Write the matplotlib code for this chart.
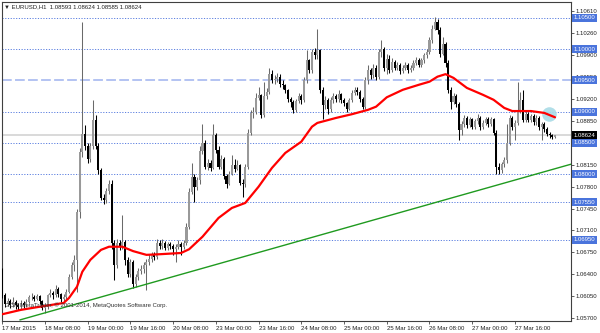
import matplotlib
matplotlib.use('Agg')
import matplotlib.pyplot as plt
import matplotlib.transforms as mtransforms

plt.rcParams['font.family'] = ['Liberation Sans', 'DejaVu Sans']

# EURUSD H1 bars, index 0 = 17 Mar 2015 16:00
first_open = 1.0640
close = [1.0606, 1.0593, 1.0597, 1.0590, 1.0595, 1.0590, 1.0587, 1.0594, 1.0590, 1.0596,
         1.0603, 1.0604, 1.0601, 1.0605, 1.0597, 1.0586, 1.0588, 1.0606, 1.0610, 1.0606,
         1.0617, 1.0608, 1.0600, 1.0603, 1.0612, 1.0636, 1.0655, 1.0662, 1.0740, 1.0836,
         1.0865, 1.0845, 1.0825, 1.0845, 1.0887, 1.0845, 1.0807, 1.0762, 1.0758, 1.0773,
         1.0784, 1.0690, 1.0655, 1.0690, 1.0685, 1.0692, 1.0662, 1.0640, 1.0660, 1.0625,
         1.0635, 1.0645, 1.0648, 1.0655, 1.0660, 1.0665, 1.0670, 1.0668, 1.0690, 1.0685,
         1.0690, 1.0682, 1.0688, 1.0685, 1.0680, 1.0684, 1.0688, 1.0683, 1.0690, 1.0716,
         1.0772, 1.0796, 1.0780, 1.0790, 1.0837, 1.0850, 1.0812, 1.0818, 1.0810, 1.0862,
         1.0838, 1.0812, 1.0825, 1.0797, 1.0784, 1.0800, 1.0815, 1.0808, 1.0814, 1.0786,
         1.0785, 1.0812, 1.0866, 1.0898, 1.0900, 1.0922, 1.0926, 1.0895, 1.0925, 1.0932,
         1.0960, 1.0950, 1.0953, 1.0956, 1.0944, 1.0942, 1.0934, 1.0920, 1.0915, 1.0902,
         1.0917, 1.0925, 1.0918, 1.0950, 1.0982, 1.0967, 1.0996, 1.0990, 1.0998, 1.0935,
         1.0910, 1.0918, 1.0904, 1.0918, 1.0925, 1.0920, 1.0928, 1.0918, 1.0914, 1.0905,
         1.0918, 1.0930, 1.0935, 1.0932, 1.0920, 1.0908, 1.0950, 1.0966, 1.0958, 1.0970,
         1.0955, 1.0995, 1.1000, 1.0970, 1.0985, 1.0966, 1.0980, 1.0970, 1.0975, 1.0965,
         1.0970, 1.0975, 1.0966, 1.0970, 1.0978, 1.0983, 1.0975, 1.0982, 1.0990, 1.0995,
         1.1015, 1.1033, 1.1043, 1.1030, 1.0993, 1.1008, 1.0978, 1.0935, 1.0916, 1.0925,
         1.0912, 1.0870, 1.0880, 1.0890, 1.0878, 1.0888, 1.0876, 1.0885, 1.0890, 1.0875,
         1.0882, 1.0888, 1.0880, 1.0888, 1.0866, 1.0812, 1.0806, 1.0816, 1.0822, 1.0850,
         1.0890, 1.0875, 1.0882, 1.0903, 1.0918, 1.0887, 1.0897, 1.0887, 1.0893, 1.0883,
         1.0890, 1.0875, 1.0880, 1.0872, 1.0865, 1.0862, 1.08593, 1.08624]
high = [1.0650, 1.0610, 1.0602, 1.0600, 1.0604, 1.0598, 1.0594, 1.0598, 1.0597, 1.0600,
        1.0607, 1.0610, 1.0607, 1.0609, 1.0606, 1.0599, 1.0592, 1.0609, 1.0616, 1.0613,
        1.0622, 1.0619, 1.0610, 1.0608, 1.0616, 1.0640, 1.0660, 1.0670, 1.0745, 1.0842,
        1.1044, 1.0878, 1.0850, 1.0850, 1.0919, 1.0895, 1.0850, 1.0810, 1.0768, 1.0778,
        1.0791, 1.0790, 1.0695, 1.0697, 1.0695, 1.0735, 1.0695, 1.0668, 1.0665, 1.0662,
        1.0640, 1.0650, 1.0655, 1.0660, 1.0665, 1.0672, 1.0676, 1.0675, 1.0697, 1.0694,
        1.0697, 1.0693, 1.0692, 1.0692, 1.0688, 1.0688, 1.0694, 1.0692, 1.0695, 1.0722,
        1.0778, 1.0818, 1.0800, 1.0795, 1.0845, 1.0881, 1.0855, 1.0825, 1.0822, 1.0881,
        1.0866, 1.0845, 1.0830, 1.0828, 1.0800, 1.0805, 1.0830, 1.0824, 1.0822, 1.0816,
        1.0792, 1.0816, 1.0872, 1.0903, 1.0908, 1.0930, 1.0940, 1.0929, 1.0948, 1.0938,
        1.0970, 1.0966, 1.0958, 1.0962, 1.0960, 1.0950, 1.0945, 1.0937, 1.0924, 1.0918,
        1.0920, 1.0930, 1.0928, 1.0955, 1.0999, 1.0985, 1.1000, 1.1002, 1.1033, 1.1000,
        1.0940, 1.0925, 1.0922, 1.0924, 1.0930, 1.0928, 1.0935, 1.0930, 1.0922, 1.0916,
        1.0922, 1.0934, 1.0940, 1.0940, 1.0934, 1.0924, 1.0955, 1.0975, 1.0970, 1.0976,
        1.0974, 1.1000, 1.1015, 1.1004, 1.0992, 1.0990, 1.0986, 1.0983, 1.0980, 1.0978,
        1.0975, 1.0980, 1.0978, 1.0974, 1.0982, 1.0988, 1.0986, 1.0986, 1.0994, 1.1000,
        1.1020, 1.1038, 1.1052, 1.1048, 1.1035, 1.1020, 1.1012, 1.0982, 1.0940, 1.0930,
        1.0928, 1.0915, 1.0885, 1.0894, 1.0893, 1.0892, 1.0890, 1.0889, 1.0897, 1.0893,
        1.0886, 1.0892, 1.0891, 1.0892, 1.0890, 1.0870, 1.0818, 1.0820, 1.0828, 1.0880,
        1.0894, 1.0893, 1.0887, 1.0948, 1.0932, 1.0935, 1.0901, 1.0899, 1.0897, 1.0896,
        1.0894, 1.0893, 1.0884, 1.0883, 1.0876, 1.0868, 1.0864, 1.08624]
low = [1.0602, 1.0588, 1.0589, 1.0586, 1.0587, 1.0585, 1.0582, 1.0584, 1.0586, 1.0587,
       1.0594, 1.0599, 1.0597, 1.0598, 1.0593, 1.0582, 1.0578, 1.0585, 1.0603, 1.0601,
       1.0604, 1.0604, 1.0596, 1.0597, 1.0600, 1.0610, 1.0632, 1.0645, 1.0612, 1.0730,
       1.0828, 1.0838, 1.0818, 1.0820, 1.0840, 1.0840, 1.0800, 1.0758, 1.0752, 1.0754,
       1.0768, 1.0680, 1.0631, 1.0650, 1.0678, 1.0680, 1.0655, 1.0636, 1.0636, 1.0618,
       1.0620, 1.0630, 1.0640, 1.0642, 1.0614, 1.0655, 1.0660, 1.0662, 1.0665, 1.0680,
       1.0680, 1.0678, 1.0679, 1.0680, 1.0670, 1.0660, 1.0680, 1.0670, 1.0680, 1.0686,
       1.0712, 1.0768, 1.0755, 1.0775, 1.0785, 1.0832, 1.0808, 1.0806, 1.0805, 1.0808,
       1.0834, 1.0808, 1.0808, 1.0793, 1.0778, 1.0783, 1.0798, 1.0804, 1.0806, 1.0782,
       1.0764, 1.0780, 1.0808, 1.0862, 1.0890, 1.0896, 1.0918, 1.0890, 1.0892, 1.0920,
       1.0928, 1.0946, 1.0945, 1.0948, 1.0940, 1.0936, 1.0930, 1.0915, 1.0908, 1.0898,
       1.0900, 1.0914, 1.0912, 1.0915, 1.0946, 1.0962, 1.0962, 1.0985, 1.0985, 1.0930,
       1.0889, 1.0905, 1.0896, 1.0900, 1.0914, 1.0915, 1.0916, 1.0914, 1.0909, 1.0900,
       1.0902, 1.0915, 1.0926, 1.0926, 1.0916, 1.0904, 1.0905, 1.0945, 1.0952, 1.0954,
       1.0950, 1.0952, 1.0988, 1.0965, 1.0960, 1.0962, 1.0963, 1.0966, 1.0967, 1.0961,
       1.0962, 1.0966, 1.0962, 1.0963, 1.0967, 1.0975, 1.0971, 1.0972, 1.0978, 1.0986,
       1.0992, 1.1010, 1.1030, 1.1025, 1.0988, 1.0990, 1.0972, 1.0930, 1.0905, 1.0912,
       1.0908, 1.0854, 1.0862, 1.0875, 1.0874, 1.0875, 1.0872, 1.0872, 1.0880, 1.0871,
       1.0872, 1.0878, 1.0876, 1.0877, 1.0862, 1.0800, 1.0800, 1.0802, 1.0812, 1.0818,
       1.0846, 1.0871, 1.0855, 1.0878, 1.0898, 1.0883, 1.0883, 1.0883, 1.0884, 1.0879,
       1.0879, 1.0871, 1.0855, 1.0868, 1.0861, 1.0858, 1.0856, 1.08585]

# moving average (red), read at selected bars
ma_idx = [0, 7, 14, 23, 25, 28, 30, 33, 37, 40, 45, 49, 54, 59, 67, 70, 75, 81, 86, 91,
          96, 101, 106, 112, 116, 118, 125, 131, 137, 140, 144, 150, 156, 160, 163, 166,
          169, 174, 180, 184, 188, 191, 198, 203, 207]
ma_val = [1.0576, 1.0583, 1.0588, 1.0594, 1.0602, 1.0620, 1.0644, 1.0663, 1.0679, 1.0684,
          1.0684, 1.0677, 1.0671, 1.0672, 1.0674, 1.0680, 1.0700, 1.0730, 1.0746, 1.0754,
          1.0780, 1.0810, 1.0834, 1.0852, 1.0876, 1.0882, 1.0890, 1.0896, 1.0903, 1.0908,
          1.0923, 1.0935, 1.0943, 1.0948, 1.0956, 1.0960, 1.0954, 1.0938, 1.0927, 1.0919,
          1.0906, 1.0901, 1.0901, 1.0898, 1.0891]

# trend line (green)
trend_idx = [6.7, 213.0]
trend_val = [1.0567, 1.0816]

dotted_levels = [1.10500, 1.10000, 1.09000, 1.08500, 1.08000, 1.07550, 1.06950]
dashed_level = 1.09500
last_price = 1.08624

ytick_vals = [1.10610, 1.10260, 1.09900, 1.09550, 1.09200, 1.08850, 1.08150,
              1.07800, 1.07450, 1.07100, 1.06750, 1.06400, 1.06050, 1.05700]
xtick_idx = [0, 16, 32, 48, 64, 80, 96, 112, 128, 144, 160, 176, 192]
xtick_labels = ['17 Mar 2015', '18 Mar 08:00', '19 Mar 00:00', '19 Mar 16:00', '20 Mar 08:00',
                '23 Mar 00:00', '23 Mar 16:00', '24 Mar 08:00', '25 Mar 00:00', '25 Mar 16:00',
                '26 Mar 08:00', '27 Mar 00:00', '27 Mar 16:00']

FS = 4.3

fig = plt.figure(figsize=(6, 3.33), dpi=100)
fig.patch.set_facecolor('white')
ax = fig.add_axes([1.7 / 600, 1 - 321 / 333, 569.6 / 600, 319.3 / 333])

# levels
for lv in dotted_levels:
    ax.axhline(lv, color='#5b7fe0', lw=0.7, ls=(0, (1.2, 1.6)), zorder=1)
ax.axhline(dashed_level, color='#b3c3f2', lw=1.4, ls=(0, (5, 1.7)), zorder=1)
ax.axhline(last_price, color='#cfcfcf', lw=1.1, zorder=1)

# candles
opens = [first_open] + close[:-1]
bull_c = '#999999'
bear_c = '#000000'
for i in range(len(close)):
    o, c = opens[i], close[i]
    col = bull_c if c >= o else bear_c
    wcol = '#6a6a6a' if c >= o else '#000000'
    ax.vlines(i, low[i], high[i], colors=wcol, lw=0.75, zorder=3)
    h = max(abs(c - o), 0.00005)
    ax.bar(i, h, bottom=min(o, c), width=0.78, color=col, linewidth=0, zorder=4)

# trend line and MA
ax.plot(trend_idx, trend_val, color='#1f9a1f', lw=1.0, zorder=5)
ax.scatter([204.8], [1.0896], s=110, color='#a9dbe6', alpha=0.9, linewidths=0, zorder=5)
ax.plot(ma_idx, ma_val, color='#ff0000', lw=1.6, zorder=6, solid_capstyle='round')

ax.set_xlim(-0.19, 213.1)
ax.set_ylim(1.05652, 1.10759)

for s in ax.spines.values():
    s.set_color('#404040')
    s.set_linewidth(0.8)

ax.yaxis.tick_right()
ax.set_yticks(ytick_vals)
ax.set_yticklabels(['%.5f' % v for v in ytick_vals])
ax.tick_params(axis='y', which='both', right=True, left=False, length=2, width=0.5,
               pad=1.2, labelsize=FS, colors='#202020')
ax.set_xticks(xtick_idx)
ax.set_xticklabels(xtick_labels, ha='left')
ax.tick_params(axis='x', length=2.5, width=0.5, pad=1.0, labelsize=FS, colors='#202020')

# price boxes on the right
trans = mtransforms.blended_transform_factory(ax.transAxes, ax.transData)
for lv in dotted_levels + [dashed_level]:
    ax.text(1.0045, lv, '%.5f' % lv, transform=trans, ha='left', va='center', fontsize=FS,
            color='white', clip_on=False, zorder=10,
            bbox=dict(boxstyle='square,pad=0.25', fc='#4a74dc', ec='none'))
ax.text(1.0045, last_price, '%.5f' % last_price, transform=trans, ha='left', va='center',
        fontsize=FS, color='white', clip_on=False, zorder=10,
        bbox=dict(boxstyle='square,pad=0.25', fc='#000000', ec='none'))

fig.text(4 / 600, 1 - 7 / 333, '\u25bc EURUSD,H1  1.08593 1.08624 1.08585 1.08624',
         fontsize=FS, color='#202020', va='center', ha='left')
fig.text(5 / 600, 1 - 305 / 333, 'GCM MetaTrader, \u00a9 2001-2014, MetaQuotes Software Corp.',
         fontsize=FS, color='#303030', va='center', ha='left', zorder=20)

plt.savefig('out.png', dpi=100)
